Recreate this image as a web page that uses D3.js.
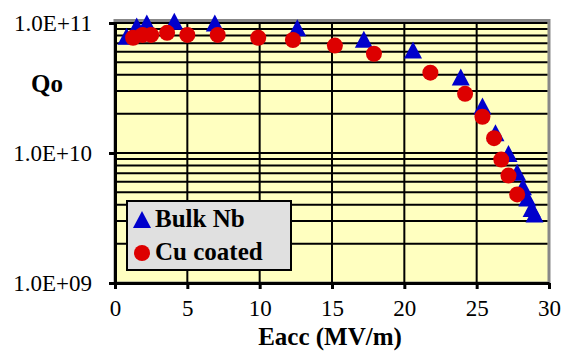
<!DOCTYPE html>
<html>
<head>
<meta charset="utf-8">
<script src="https://cdn.jsdelivr.net/npm/d3@7"></script>
<style>
  body { margin: 0; background: #fff; }
  svg { display: block; }
</style>
</head>
<body>
<svg width="563" height="351"></svg>
<script>
// Bulk Nb cavity
var bulkE = [0.8, 1.5, 2.2, 4.1, 6.9, 12.6, 17.2, 20.6, 23.9, 25.4, 26.3, 27.2, 27.8, 28.2, 28.5, 28.8, 29.0];
var bulkQ = [7.9e10, 9.5e10, 1.0e11, 1.03e11, 1.0e11, 9.2e10, 7.5e10, 6.2e10, 3.85e10, 2.3e10, 1.43e10, 9.9e9, 7.1e9, 5.5e9, 4.5e9, 3.75e9, 3.4e9];
// Cu coated cavity
var cuE = [1.25, 1.9, 2.5, 3.6, 5.0, 7.1, 9.9, 12.3, 15.2, 17.9, 21.8, 24.2, 25.4, 26.2, 26.7, 27.2, 27.8];
var cuQ = [7.7e10, 8.1e10, 8.1e10, 8.4e10, 8.1e10, 8.1e10, 7.7e10, 7.4e10, 6.7e10, 5.8e10, 4.15e10, 2.85e10, 1.9e10, 1.3e10, 8.9e9, 6.7e9, 4.8e9];

var xTicks = [0, 5, 10, 15, 20, 25, 30];
var yTicks = [1e9, 1e10, 1e11];
var yTickLabels = ["1.0E+09", "1.0E+10", "1.0E+11"];
var seriesNames = ["Bulk Nb", "Cu coated"];

var serif = "'Liberation Serif', 'Times New Roman', serif";

var svg = d3.select("svg");

var x = d3.scaleLinear().domain([0, 30]).range([115, 549]),
    y = d3.scaleLog().domain([1e9, 1e11]).range([283, 23]);

var bulk = bulkE.map(function(e, i) { return {e: e, q: bulkQ[i]}; });
var cu = cuE.map(function(e, i) { return {e: e, q: cuQ[i]}; });

// Excel style triangle, centred on its bounding box
var triangle = {
  draw: function(ctx) {
    ctx.moveTo(0, -8.5);
    ctx.lineTo(9, 8.5);
    ctx.lineTo(-9, 8.5);
    ctx.closePath();
  }
};
var tri = d3.symbol().type(triangle);

// plot area
svg.append("rect")
    .attr("x", x(0)).attr("y", y(1e11) - 2.5)
    .attr("width", x(30) - x(0)).attr("height", y(1e9) - y(1e11) + 2.5)
    .attr("fill", "#FFFFC0")
    .attr("stroke", "#888").attr("stroke-width", 3);

// gridlines
svg.append("g").selectAll("line")
    .data(y.ticks())
  .enter().append("line")
    .attr("x1", x(0)).attr("x2", x(30) - 1.5)
    .attr("y1", function(d) { return y(d); })
    .attr("y2", function(d) { return y(d); })
    .attr("stroke", "#000").attr("stroke-width", 2);

svg.append("g").selectAll("line")
    .data(xTicks.slice(1, -1))
  .enter().append("line")
    .attr("x1", function(d) { return x(d); })
    .attr("x2", function(d) { return x(d); })
    .attr("y1", y(1e11)).attr("y2", y(1e9))
    .attr("stroke", "#000").attr("stroke-width", 2);

// axes
var xAxis = svg.append("g")
    .attr("transform", "translate(0," + y(1e9) + ")")
    .call(d3.axisBottom(x).tickValues(xTicks).tickSize(6).tickPadding(11).tickSizeOuter(0));
var yAxis = svg.append("g")
    .attr("transform", "translate(" + x(0) + ",0)")
    .call(d3.axisLeft(y).tickValues(yTicks).tickSize(6).tickPadding(17).tickSizeOuter(0)
      .tickFormat(function(d, i) { return yTickLabels[i]; }));

[xAxis, yAxis].forEach(function(a) {
  a.select(".domain").attr("stroke", "#000").attr("stroke-width", 3);
  a.selectAll(".tick line").attr("stroke", "#000").attr("stroke-width", 3);
  a.selectAll(".tick text")
      .style("font-family", serif)
      .style("font-size", "23px")
      .attr("fill", "#000");
});

// markers
svg.append("g").selectAll("path")
    .data(bulk)
  .enter().append("path")
    .attr("d", tri)
    .attr("transform", function(d) { return "translate(" + x(d.e) + "," + y(d.q) + ")"; })
    .attr("fill", "#0000CC");

svg.append("g").selectAll("circle")
    .data(cu)
  .enter().append("circle")
    .attr("cx", function(d) { return x(d.e); })
    .attr("cy", function(d) { return y(d.q); })
    .attr("r", 8)
    .attr("fill", "#DD0000");

// axis titles
svg.append("text")
    .attr("x", 330).attr("y", 345)
    .attr("text-anchor", "middle")
    .style("font-family", serif)
    .style("font-size", "25px").style("font-weight", "bold")
    .text("Eacc (MV/m)");

svg.append("text")
    .attr("x", 47).attr("y", 92)
    .attr("text-anchor", "middle")
    .style("font-family", serif)
    .style("font-size", "25px").style("font-weight", "bold")
    .text("Qo");

// legend
var legend = svg.append("g").attr("transform", "translate(127,201)");
legend.append("rect")
    .attr("width", 164).attr("height", 69)
    .attr("fill", "#E0E0E0").attr("stroke", "#000").attr("stroke-width", 2);
legend.append("path")
    .attr("d", tri)
    .attr("transform", "translate(15,18.5)")
    .attr("fill", "#0000CC");
legend.append("circle")
    .attr("cx", 15).attr("cy", 52).attr("r", 8)
    .attr("fill", "#DD0000");
legend.selectAll("text.lbl")
    .data(seriesNames)
  .enter().append("text")
    .attr("class", "lbl")
    .attr("x", 28)
    .attr("y", function(d, i) { return 26 + i * 33; })
    .style("font-family", serif)
    .style("font-size", "25px").style("font-weight", "bold")
    .text(function(d) { return d; });
</script>
</body>
</html>
